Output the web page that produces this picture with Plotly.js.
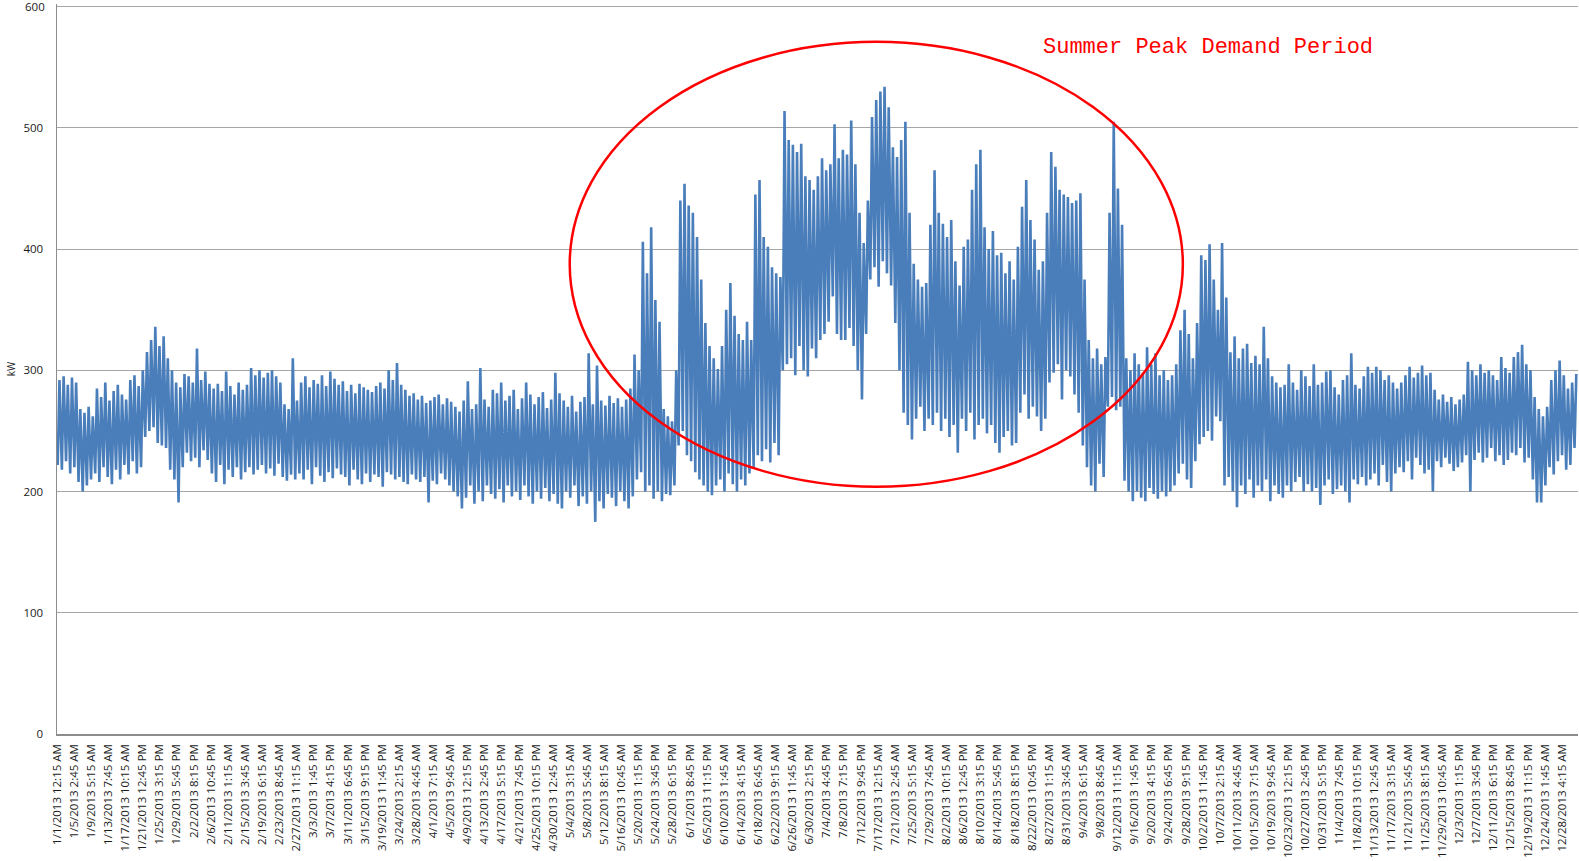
<!DOCTYPE html>
<html><head><meta charset="utf-8">
<script src="https://cdn.plot.ly/plotly-3.0.1.min.js"></script>
<style>html,body{margin:0;padding:0;background:#fff}#chart{width:1579px;height:861px}</style>
</head><body><div id="chart"></div>
<script>
// Daily peak demand (kW), 2013, one value per day
const dailyHigh = [
292,295,288,294,290,268,265,
270,262,285,278,290,275,283,
288,280,276,292,296,287,300,
315,325,336,320,328,310,300,
290,286,297,295,290,318,292,
299,289,285,289,283,299,287,
280,290,284,288,302,296,300,
294,298,300,295,290,272,268,
310,275,290,295,286,292,289,
296,287,299,293,288,291,283,
288,281,289,286,284,282,287,
290,285,300,292,306,288,284,
279,281,276,279,273,275,278,
280,272,277,274,270,266,275,
291,268,272,302,276,270,284,
281,290,275,279,284,268,277,
290,280,272,278,282,269,276,
298,281,275,270,279,266,274,
278,314,272,304,275,271,279,
273,277,270,276,285,313,300,
406,380,418,358,340,268,262,
258,300,440,454,436,430,410,
375,339,320,310,301,320,350,
372,345,330,325,340,325,445,
457,410,402,385,380,377,514,
490,486,480,487,460,457,449,
460,475,465,470,503,475,482,
478,506,470,430,405,440,509,
523,530,534,517,484,476,490,
505,430,388,375,369,372,420,
465,430,421,410,424,390,370,
402,408,449,470,482,418,400,
415,395,397,380,390,375,402,
435,457,424,408,383,390,430,
480,468,449,445,443,438,440,
446,375,325,310,318,305,311,
430,505,450,420,310,300,314,
305,298,319,305,314,296,300,
292,296,305,333,350,330,310,
339,395,391,404,375,350,405,
360,315,328,310,318,322,306,
312,305,336,310,295,290,286,
288,305,290,284,300,295,287,
305,288,290,299,300,286,280,
292,296,314,288,285,295,303,
298,303,300,292,296,290,285,
290,296,303,294,298,304,296,
298,284,276,280,274,278,272,
276,280,307,300,296,305,298,
300,296,292,311,302,298,311,
315,321,305,300,278,268,262,
270,292,300,308,296,285,290,
297
];
// Daily minimum demand (kW), 2013
const dailyLow = [
222,218,225,215,220,208,200,
205,210,215,208,220,212,206,
218,210,222,214,225,215,220,
245,250,253,240,238,236,218,
210,191,220,232,225,228,220,
234,226,215,208,222,206,218,
212,220,210,216,220,214,218,
222,215,219,213,223,212,209,
214,210,215,210,218,206,220,
213,208,216,211,219,214,212,
205,218,210,206,215,208,214,
212,204,216,214,210,212,208,
206,214,210,208,212,191,209,
206,215,210,205,200,196,186,
195,205,190,200,192,205,198,
194,202,191,205,196,200,193,
205,196,190,200,194,203,192,
198,190,186,200,195,205,188,
196,190,200,175,192,186,198,
195,188,200,192,186,196,210,
216,200,205,194,200,192,198,
197,205,238,250,230,225,216,
210,205,200,197,205,210,200,
215,206,200,210,205,215,220,
230,225,235,224,240,230,300,
305,310,296,320,300,295,318,
310,325,330,340,361,330,325,
325,335,320,300,276,330,375,
385,369,390,380,370,339,300,
265,255,243,260,270,250,260,
255,265,250,260,245,255,232,
260,250,265,243,255,260,248,
255,240,232,245,250,238,240,
265,280,260,270,262,250,260,
290,298,305,276,300,295,280,
265,238,220,205,200,223,212,
270,278,267,270,209,200,192,
200,195,192,203,198,194,200,
196,200,205,215,223,210,203,
225,239,245,250,242,262,258,
205,212,200,187,205,198,210,
195,205,200,210,192,205,198,
195,205,200,208,212,200,206,
200,203,189,205,210,198,202,
205,200,191,210,206,212,205,
210,215,205,222,208,200,215,
220,216,225,210,228,222,215,
218,200,225,220,228,223,217,
220,224,230,200,226,232,224,
228,236,225,230,222,226,232,
230,236,224,228,210,191,191,
205,220,214,225,230,218,222,
236
];
const tickLabels = [
"1/1/2013 12:15 AM","1/5/2013 2:45 AM","1/9/2013 5:15 AM","1/13/2013 7:45 AM","1/17/2013 10:15 AM",
"1/21/2013 12:45 PM","1/25/2013 3:15 PM","1/29/2013 5:45 PM","2/2/2013 8:15 PM","2/6/2013 10:45 PM",
"2/11/2013 1:15 AM","2/15/2013 3:45 AM","2/19/2013 6:15 AM","2/23/2013 8:45 AM","2/27/2013 11:15 AM",
"3/3/2013 1:45 PM","3/7/2013 4:15 PM","3/11/2013 6:45 PM","3/15/2013 9:15 PM","3/19/2013 11:45 PM",
"3/24/2013 2:15 AM","3/28/2013 4:45 AM","4/1/2013 7:15 AM","4/5/2013 9:45 AM","4/9/2013 12:15 PM",
"4/13/2013 2:45 PM","4/17/2013 5:15 PM","4/21/2013 7:45 PM","4/25/2013 10:15 PM","4/30/2013 12:45 AM",
"5/4/2013 3:15 AM","5/8/2013 5:45 AM","5/12/2013 8:15 AM","5/16/2013 10:45 AM","5/20/2013 1:15 PM",
"5/24/2013 3:45 PM","5/28/2013 6:15 PM","6/1/2013 8:45 PM","6/5/2013 11:15 PM","6/10/2013 1:45 AM",
"6/14/2013 4:15 AM","6/18/2013 6:45 AM","6/22/2013 9:15 AM","6/26/2013 11:45 AM","6/30/2013 2:15 PM",
"7/4/2013 4:45 PM","7/8/2013 7:15 PM","7/12/2013 9:45 PM","7/17/2013 12:15 AM","7/21/2013 2:45 AM",
"7/25/2013 5:15 AM","7/29/2013 7:45 AM","8/2/2013 10:15 AM","8/6/2013 12:45 PM","8/10/2013 3:15 PM",
"8/14/2013 5:45 PM","8/18/2013 8:15 PM","8/22/2013 10:45 PM","8/27/2013 1:15 AM","8/31/2013 3:45 AM",
"9/4/2013 6:15 AM","9/8/2013 8:45 AM","9/12/2013 11:15 AM","9/16/2013 1:45 PM","9/20/2013 4:15 PM",
"9/24/2013 6:45 PM","9/28/2013 9:15 PM","10/2/2013 11:45 PM","10/7/2013 2:15 AM","10/11/2013 4:45 AM",
"10/15/2013 7:15 AM","10/19/2013 9:45 AM","10/23/2013 12:15 PM","10/27/2013 2:45 PM","10/31/2013 5:15 PM",
"11/4/2013 7:45 PM","11/8/2013 10:15 PM","11/13/2013 12:45 AM","11/17/2013 3:15 AM","11/21/2013 5:45 AM",
"11/25/2013 8:15 AM","11/29/2013 10:45 AM","12/3/2013 1:15 PM","12/7/2013 3:45 PM","12/11/2013 6:15 PM",
"12/15/2013 8:45 PM","12/19/2013 11:15 PM","12/24/2013 1:45 AM","12/28/2013 4:15 AM"
];
const yTickValues = [0,100,200,300,400,500,600];
const yTickLabels = ["0","100","200","300","400","500",""];
const yTopLabel = "600";
const annotationText = "Summer Peak Demand Period";

// 15-minute interval index: 96 per day; label every 394 intervals
const PER_DAY = 96, TICK_STEP = 394, LOW_SLOT = 16, HIGH_SLOT = 56;
const xs = [], ys = [];
for (let d = 0; d < dailyHigh.length; d++) {
  xs.push(d * PER_DAY + LOW_SLOT);  ys.push(dailyLow[d]);
  xs.push(d * PER_DAY + HIGH_SLOT); ys.push(dailyHigh[d]);
}
const nIntervals = dailyHigh.length * PER_DAY;
const tickVals = tickLabels.map((_, i) => i * TICK_STEP);

const trace = {
  x: xs, y: ys, type: 'scatter', mode: 'lines',
  line: {color: '#4a7ebb', width: 2.6},
  hoverinfo: 'skip'
};

const layout = {
  width: 1579, height: 861,
  margin: {l: 57, r: 1, t: 4, b: 127, pad: 0},
  paper_bgcolor: '#ffffff', plot_bgcolor: '#ffffff',
  showlegend: false,
  font: {family: 'Open Sans, Liberation Sans, sans-serif', color: '#1a1a1a'},
  xaxis: {
    range: [-0.5, nIntervals - 0.5],
    tickmode: 'array', tickvals: tickVals, ticktext: tickLabels,
    tickangle: -90, tickfont: {size: 11.5, color: '#1a1a1a'},
    ticks: '', ticklabelstandoff: 4,
    showgrid: false, zeroline: false,
    showline: true, linecolor: '#8c8c8c', linewidth: 1.5
  },
  yaxis: {
    range: [0, 602.2], tickmode: 'array', tickvals: yTickValues, ticktext: yTickLabels,
    tickfont: {size: 11.5, color: '#1a1a1a'},
    ticks: '', ticklabelstandoff: 10,
    showgrid: true, gridcolor: '#a6a6a6', gridwidth: 1,
    zeroline: false, showline: true, linecolor: '#8c8c8c', linewidth: 1.5,
    title: {text: 'kW', font: {size: 10, color: '#1a1a1a'}, standoff: 6}
  },
  shapes: [{
    type: 'circle', xref: 'paper', yref: 'y',
    x0: 0.3371, x1: 0.7402, y0: 204, y1: 571,
    line: {color: '#ff0000', width: 2.5}, fillcolor: 'rgba(0,0,0,0)'
  }],
  annotations: [{
    text: annotationText, xref: 'paper', yref: 'paper',
    x: 0.7567, y: 0.9407, xanchor: 'center', yanchor: 'middle', showarrow: false,
    font: {family: 'Liberation Mono, Courier New, monospace', size: 22, color: '#ff0000'}
  }, {
    text: yTopLabel, xref: 'paper', yref: 'y',
    x: 0, y: yTickValues[yTickValues.length - 1], xanchor: 'right', yanchor: 'middle',
    xshift: -10, showarrow: false,
    font: {family: 'Open Sans, Liberation Sans, sans-serif', size: 11.5, color: '#1a1a1a'}
  }]
};

Plotly.newPlot('chart', [trace], layout, {displayModeBar: false, staticPlot: true});
</script>
</body></html>
